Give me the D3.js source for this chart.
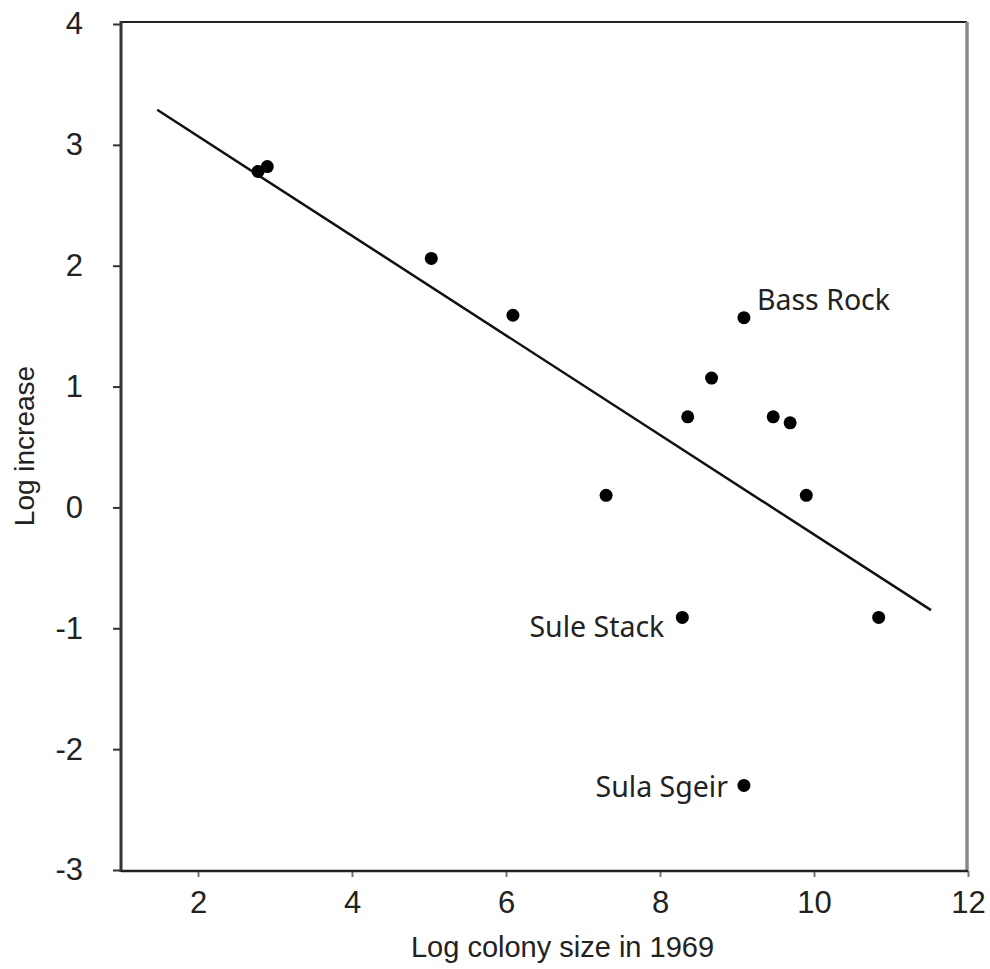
<!DOCTYPE html>
<html>
<head>
<meta charset="utf-8">
<script src="https://cdn.jsdelivr.net/npm/d3@7"></script>
<style>
  body { margin: 0; background: #fff; }
  svg { display: block; }
</style>
</head>
<body>
<div id="chart"></div>
<script>
// colony data
const colonySize = [2.78, 2.9, 5.03, 6.09, 9.09, 8.67, 8.36, 9.47, 9.69, 7.30, 9.90, 8.29, 10.84, 9.09];
const logIncrease = [2.78, 2.82, 2.06, 1.59, 1.57, 1.07, 0.75, 0.75, 0.70, 0.10, 0.10, -0.91, -0.91, -2.30];
const pointNames = ["", "", "", "", "Bass Rock", "", "", "", "", "", "", "Sule Stack", "", "Sula Sgeir"];

// fitted line ends
const fitX = [1.47, 11.52];
const fitY = [3.29, -0.85];

const xTicks = [2, 4, 6, 8, 10, 12];
const yTicks = [-3, -2, -1, 0, 1, 2, 3, 4];

const width = 990, height = 969;
const plotLeft = 121, plotRight = 967, plotTop = 22, plotBottom = 871;

const svg = d3.select("#chart").append("svg")
    .attr("width", width)
    .attr("height", height);

const x = d3.scaleLinear().domain([1, 12]).range([plotLeft, 968]);
const y = d3.scaleLinear().domain([-3, 4]).range([870, 24]);

const tickFont = "'Liberation Sans', Arial, sans-serif";
const plain = d => String(d); // keep hyphen-minus, no decimals

// axes
const xAxis = svg.append("g")
    .attr("transform", `translate(0, ${plotBottom})`)
    .call(d3.axisBottom(x).tickValues(xTicks).tickFormat(plain).tickSize(6).tickPadding(14).tickSizeOuter(0));
xAxis.select(".domain").remove();
xAxis.selectAll("line").attr("stroke", "#777").attr("stroke-width", 2);
xAxis.selectAll("text")
    .style("font-family", tickFont)
    .style("font-size", "31px")
    .attr("fill", "#222");

const yAxis = svg.append("g")
    .attr("transform", `translate(${plotLeft}, 0)`)
    .call(d3.axisLeft(y).tickValues(yTicks).tickFormat(plain).tickSize(8).tickPadding(30).tickSizeOuter(0));
yAxis.select(".domain").remove();
yAxis.selectAll("line").attr("stroke", "#333").attr("stroke-width", 2);
yAxis.selectAll("text")
    .style("font-family", tickFont)
    .style("font-size", "31px")
    .attr("fill", "#222");

// frame
svg.append("line").attr("x1", plotLeft).attr("x2", plotRight).attr("y1", plotTop).attr("y2", plotTop)
    .attr("stroke", "#222").attr("stroke-width", 2);
svg.append("line").attr("x1", plotRight).attr("x2", plotRight).attr("y1", plotTop).attr("y2", plotBottom)
    .attr("stroke", "#888").attr("stroke-width", 3.5);
svg.append("line").attr("x1", plotLeft).attr("x2", plotLeft).attr("y1", plotTop - 1).attr("y2", plotBottom + 1)
    .attr("stroke", "#333").attr("stroke-width", 3);
svg.append("line").attr("x1", plotLeft).attr("x2", plotRight + 1).attr("y1", plotBottom).attr("y2", plotBottom)
    .attr("stroke", "#222").attr("stroke-width", 2.5);

// regression line
svg.append("line")
    .attr("x1", x(fitX[0])).attr("y1", y(fitY[0]))
    .attr("x2", x(fitX[1])).attr("y2", y(fitY[1]))
    .attr("stroke", "#111")
    .attr("stroke-width", 2.5);

// points
svg.append("g")
    .selectAll("circle")
    .data(colonySize)
    .enter().append("circle")
    .attr("cx", d => x(d))
    .attr("cy", (d, i) => y(logIncrease[i]))
    .attr("r", 6.5)
    .attr("fill", "#000");

// labels for named colonies
const labelPos = {
    "Bass Rock": { dx: 13, dy: -8, anchor: "start" },
    "Sule Stack": { dx: -18, dy: 20, anchor: "end" },
    "Sula Sgeir": { dx: -16, dy: 12, anchor: "end" }
};
svg.append("g")
    .selectAll("text")
    .data(pointNames.map((n, i) => ({ n, i })).filter(d => d.n))
    .enter().append("text")
    .attr("x", d => x(colonySize[d.i]) + labelPos[d.n].dx)
    .attr("y", d => y(logIncrease[d.i]) + labelPos[d.n].dy)
    .attr("text-anchor", d => labelPos[d.n].anchor)
    .style("font-family", "'Noto Sans', 'DejaVu Sans', sans-serif")
    .style("font-size", "28.5px")
    .attr("fill", "#222")
    .text(d => d.n);

// axis titles
svg.append("text")
    .attr("x", (x(1) + x(12)) / 2 + 18)
    .attr("y", 957)
    .attr("text-anchor", "middle")
    .style("font-family", tickFont)
    .style("font-size", "29px")
    .attr("fill", "#222")
    .text("Log colony size in 1969");

svg.append("text")
    .attr("transform", "translate(34, 446) rotate(-90)")
    .attr("text-anchor", "middle")
    .style("font-family", tickFont)
    .style("font-size", "28px")
    .attr("fill", "#222")
    .text("Log increase");
</script>
</body>
</html>
